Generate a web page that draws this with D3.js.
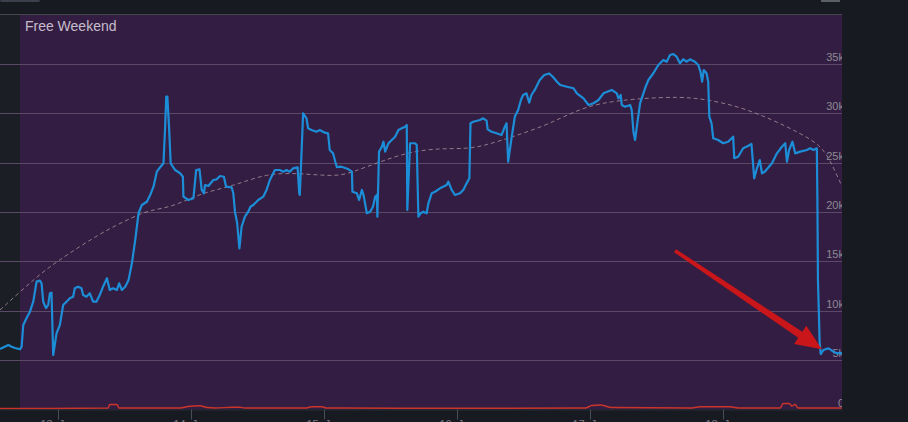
<!DOCTYPE html>
<html><head><meta charset="utf-8">
<script src="https://cdn.jsdelivr.net/npm/d3@7"></script>
<style>html,body{margin:0;padding:0;background:#171a20;}svg{display:block;}</style>
</head><body>
<svg id="c" width="908" height="422"></svg>
<script>
// ---- data (hours since chart start, players) ----
const playerHours = [0,1.5,2.1,2.7,3.6,3.9,4.2,4.8,5.4,6.0,6.6,7.2,7.5,7.8,8.3,8.7,9.0,9.3,9.6,10.2,10.8,11.4,12.0,12.6,13.2,13.5,14.1,14.7,15.0,15.6,16.2,16.8,17.4,18.0,18.6,19.3,19.8,20.4,21.1,21.5,22.0,22.6,23.2,23.8,24.4,25.0,25.6,26.5,27.1,27.7,28.3,28.9,29.5,29.8,30.0,30.2,30.5,30.8,31.6,32.5,33.0,33.1,34.0,34.9,35.4,36.0,36.4,36.8,37.0,37.6,38.5,39.1,39.7,40.4,40.8,41.8,42.1,42.4,42.8,43.2,43.6,44.2,44.8,45.2,45.7,46.6,47.5,48.1,48.7,49.6,50.5,51.1,51.7,52.3,52.9,53.7,54.0,54.1,54.7,55.3,55.6,56.2,57.1,57.7,58.6,59.2,59.5,60.1,60.5,60.8,61.4,61.9,62.9,63.5,63.6,64.4,64.8,65.3,65.6,66.2,66.8,67.3,67.7,68.0,68.1,68.4,68.9,69.2,69.5,70.1,70.7,71.3,71.9,72.5,73.1,73.4,73.5,74.0,74.9,75.2,75.5,75.9,76.4,77.0,77.3,77.9,78.5,79.4,80.6,80.9,81.5,82.1,83.0,83.6,84.2,84.7,84.9,85.4,86.6,87.2,87.8,88.0,88.7,89.6,90.5,91.1,91.4,91.7,92.3,92.9,93.5,94.0,94.4,95.0,95.5,95.9,96.5,97.1,97.4,98.2,99.1,99.8,100.5,101.1,102.3,103.5,104.1,105.3,106.2,107.1,108.0,108.9,110.4,111.3,111.6,112.0,112.2,112.8,113.7,114.0,114.3,114.6,115.0,115.5,116.4,117.0,117.9,118.8,119.7,120.3,120.9,121.5,122.1,122.7,123.3,123.9,124.5,125.4,126.0,126.4,126.7,127.0,127.5,127.8,128.0,128.4,128.7,129.6,130.5,131.4,132.3,132.5,133.2,134.1,134.7,135.6,136.1,136.5,137.1,137.5,138.0,139.3,140.2,141.1,141.7,142.0,142.4,143.0,143.5,144.4,145.6,146.2,146.8,147.4,147.5,147.6,147.8,147.9,148.1,148.6,149.5,150.4,151.0,151.6,151.9];
const playerValues = [6130,6530,6360,6230,6100,6360,8560,9270,9910,10920,12950,13050,12780,10920,10280,10590,11770,11830,5520,7720,8560,10590,10920,11260,11430,12280,12440,12280,11600,11430,11770,10920,10920,11600,12440,13290,12110,12280,12110,12780,12110,12440,13120,14810,17170,19880,20720,21050,21730,22570,24090,24540,24940,28650,31690,31690,28650,24940,24260,23930,23580,21560,21220,21400,24260,24330,22240,21900,22740,22640,23250,23320,23650,23580,22570,22510,21900,20040,18860,16330,18520,19530,20040,20540,20720,21220,21560,22240,23250,24260,24260,24090,24260,24090,24430,24540,21900,21730,30010,29500,28490,28310,28140,28310,28040,27980,26290,25950,25100,24540,24600,24540,24330,24090,22060,21900,21220,22240,21730,19880,20040,20540,21560,21730,19530,26120,26620,27130,26120,26970,27300,27640,28310,28490,28650,28820,20210,26970,26970,26790,19530,19880,20040,19880,20890,21900,22060,22410,22740,23080,22240,21730,21900,22240,22910,23420,28990,29150,29330,29500,29260,28380,28140,27980,27810,28650,28990,25100,27470,29660,30340,31350,31860,32030,31080,31860,32370,33040,33380,33890,34040,33680,33210,32870,32700,32540,32030,31520,30850,31020,31350,32030,32370,32030,31520,31860,30850,30670,30850,30340,28140,27300,28990,31020,32540,33380,34060,34900,35400,35230,35910,36010,35740,35070,35480,35230,35480,35230,34900,34220,33210,34390,34060,33210,29660,28990,27470,27300,26970,27130,27640,25450,25610,26460,26620,26900,23420,24260,25270,23930,24090,24940,25950,26620,26970,25100,26290,27130,25950,26120,26290,26460,26290,26460,21220,13120,9070,6840,5620,6030,6200,5860,5690,5750,5620];

const trendHours  = [0,6.6,10.2,18.0,24.1,27.1,31.3,36.1,42.1,48.1,54.1,60.8,63.8,68.6,74.0,79.4,84.2,87.8,92.6,98.7,103.5,108.3,115.5,122.7,127.5,133.5,139.5,144.4,148.0,149.8,151.9];
const trendValues = [10080,13450,14970,17850,19530,20210,20540,21900,22640,23930,23930,23580,24090,25100,26120,26460,26390,26790,27640,28820,30170,31080,31520,31690,31420,30670,29330,27980,26790,25270,22640];

const viewerHours  = [0,9.0,19.5,19.8,21.1,21.5,32.5,33.9,36.1,37.4,38.8,41.9,43.3,44.2,55.0,56.3,58.1,59.0,72.2,105.6,106.8,108.3,110.4,124.5,126.3,131.7,133.5,140.8,141.3,142.4,142.9,143.5,144.0,151.9];
const viewerValues = [100,100,150,510,510,150,150,300,370,200,150,230,230,150,150,270,270,150,120,150,410,460,200,150,270,270,150,150,610,610,350,510,150,150];

const yTicks = [0,5000,10000,15000,20000,25000,30000,35000];
const yTickLabels = ["0","5k","10k","15k","20k","25k","30k","35k"];
const xTickHours = [10.47,34.47,58.47,82.47,106.47,130.47];
const xTickLabels = ["13. Jun","14. Jun","15. Jun","16. Jun","17. Jun","18. Jun"];
const bandRange = [3.6, 152];
const bandLabel = "Free Weekend";
const arrowFrom = [121.8, 16090];
const arrowTo = [148.3, 6100];

// ---- layout ----
const W = 908, H = 422;
const plot = {left:0, right:842, top:14, bottom:409.5};
const x = d3.scaleLinear().domain([0,151.94]).range([plot.left, plot.right]);
const y = d3.scaleLinear().domain([0,35000]).range([409.5, 64]);

const svg = d3.select("#c");
svg.append("rect").attr("width",W).attr("height",H).attr("fill","#171a20");
// top-bar decorations
svg.append("rect").attr("x",0).attr("y",-3).attr("width",40).attr("height",5).attr("rx",2).attr("fill","#3a3f4b");
svg.append("rect").attr("x",821).attr("y",-3).attr("width",19).attr("height",5).attr("fill","#5a5e66");

const defs = svg.append("defs");
defs.append("clipPath").attr("id","clip").append("rect")
  .attr("x",plot.left).attr("y",plot.top).attr("width",plot.right-plot.left).attr("height",plot.bottom-plot.top+2);

const g = svg.append("g").attr("clip-path","url(#clip)");
g.append("rect").attr("x",plot.left).attr("y",plot.top).attr("width",plot.right-plot.left).attr("height",plot.bottom-plot.top).attr("fill","#1b1e25");
g.append("rect").attr("x",x(bandRange[0])).attr("y",plot.top).attr("width",x(bandRange[1])-x(bandRange[0])).attr("height",plot.bottom-plot.top).attr("fill","#341d42");
g.append("line").attr("x1",plot.left).attr("x2",plot.right).attr("y1",plot.top+0.5).attr("y2",plot.top+0.5).attr("stroke","#47454e");

// gridlines
g.selectAll("line.grid").data(yTicks.slice(1)).join("line").attr("class","grid")
  .attr("x1",plot.left).attr("x2",plot.right)
  .attr("y1",d=>Math.round(y(d))+0.5).attr("y2",d=>Math.round(y(d))+0.5)
  .attr("stroke","#5b4968").attr("stroke-width",1);

// band label
g.append("text").attr("x",x(bandRange[0])+5).attr("y",31).text(bandLabel)
  .attr("font-family","'Liberation Sans', Arial, sans-serif").attr("font-size",14).attr("fill","#c6bdcb");

// y labels
g.selectAll("text.yl").data(yTicks).join("text").attr("class","yl")
  .attr("x",844).attr("y",(d)=>y(d)-3).attr("text-anchor","end")
  .attr("font-family","'Liberation Sans', Arial, sans-serif").attr("font-size",11).attr("fill","#8c8a93")
  .text((d,i)=>yTickLabels[i]);

const zip = (a,b)=>a.map((v,i)=>[v,b[i]]);
const line = d3.line().x(d=>x(d[0])).y(d=>y(d[1]));

// viewers (red)
g.append("path").datum(zip(viewerHours,viewerValues)).attr("d",line.curve(d3.curveMonotoneX))
  .attr("fill","none").attr("stroke","#c9352b").attr("stroke-width",1.5);
// trend (dashed)
g.append("path").datum(zip(trendHours,trendValues)).attr("d",d3.line().x(d=>x(d[0])).y(d=>y(d[1])).curve(d3.curveBasis))
  .attr("fill","none").attr("stroke","#b39aa6").attr("stroke-width",1).attr("stroke-dasharray","4,3").attr("opacity",0.75);
// players (blue)
g.append("path").datum(zip(playerHours,playerValues)).attr("d",d3.line().x(d=>x(d[0])).y(d=>y(d[1])))
  .attr("fill","none").attr("stroke","#1c8ed8").attr("stroke-width",2.2).attr("stroke-linejoin","round");

// x axis
const xAxis = d3.axisBottom(x).tickValues(xTickHours).tickFormat((d,i)=>xTickLabels[i]).tickSize(10).tickSizeOuter(0);
const ax = svg.append("g").attr("transform",`translate(0,${plot.bottom})`).call(xAxis);
ax.select(".domain").attr("stroke","#2a2a33");
ax.selectAll(".tick line").attr("stroke","#4b4f58");
ax.selectAll(".tick text").attr("fill","#7d7b84").attr("font-size",11).attr("font-family","'Liberation Sans', Arial, sans-serif").attr("y",11).attr("dy","0.71em");

// arrow annotation
const ax0 = x(arrowFrom[0]), ay0 = y(arrowFrom[1]), ax1 = x(arrowTo[0]), ay1 = y(arrowTo[1]);
const ang = Math.atan2(ay1-ay0, ax1-ax0);
const len = Math.hypot(ax1-ax0, ay1-ay0);
const headL = 26, headW = 11, w0 = 1.8, w1 = 3.6;
const ar = svg.append("g").attr("transform",`translate(${ax0},${ay0}) rotate(${ang*180/Math.PI})`);
ar.append("path").attr("d",`M0,${-w0} L${len-headL},${-w1} L${len-headL},${-headW} L${len},0 L${len-headL},${headW} L${len-headL},${w1} L0,${w0} Z`)
  .attr("fill","#c8161a");
</script>
</body></html>
